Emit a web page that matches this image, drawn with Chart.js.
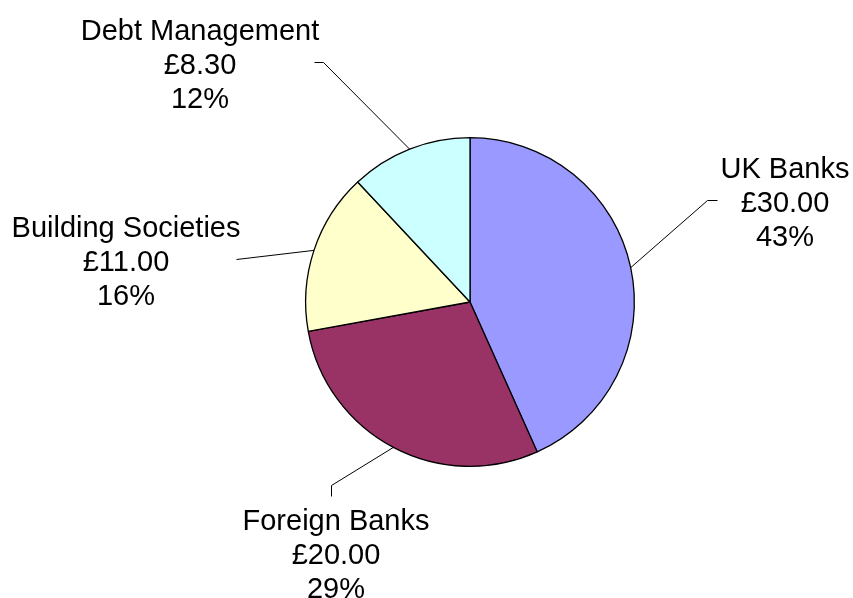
<!DOCTYPE html>
<html>
<head>
<meta charset="utf-8">
<script src="https://cdn.jsdelivr.net/npm/chart.js@4"></script>
<style>
  html, body { margin: 0; padding: 0; background: #ffffff; }
  #wrap { width: 853px; height: 598px; }
</style>
</head>
<body>
<div id="wrap"><canvas id="c" width="853" height="598"></canvas></div>
<script>
// ---- data ----
const categories = ["UK Banks", "Foreign Banks", "Building Societies", "Debt Management"];
const amounts = [30.00, 20.00, 11.00, 8.30];
const colors = ["#9999FF", "#993366", "#FFFFCC", "#CCFFFF"];

// ---- label layout (offsets relative to pie centre, pixels) ----
const labelLayout = [
  { text: [315, -124], elbow: [237, -102], end: [247, -102] },
  { text: [-134, 228], elbow: [-139, 183], end: [-139, 194] },
  { text: [-344, -65], elbow: [-234, -43], end: [-234, -43] },
  { text: [-270, -262], elbow: [-147, -240], end: [-156, -240] }
];

const outsideLabels = {
  id: 'outsideLabels',
  afterDatasetsDraw(chart) {
    const ctx = chart.ctx;
    const meta = chart.getDatasetMeta(0);
    const data = chart.data.datasets[0].data;
    const total = data.reduce((a, b) => a + b, 0);
    ctx.save();
    meta.data.forEach((arc, i) => {
      const p = arc.getProps(['x', 'y', 'startAngle', 'endAngle', 'outerRadius'], true);
      const mid = (p.startAngle + p.endAngle) / 2;
      const sx = p.x + Math.cos(mid) * p.outerRadius;
      const sy = p.y + Math.sin(mid) * p.outerRadius;
      const L = labelLayout[i];
      ctx.strokeStyle = '#000';
      ctx.lineWidth = 1;
      ctx.beginPath();
      ctx.moveTo(sx, sy);
      ctx.lineTo(p.x + L.elbow[0] + 0.5, p.y + L.elbow[1] + 0.5);
      ctx.lineTo(p.x + L.end[0] + 0.5, p.y + L.end[1] + 0.5);
      ctx.stroke();

      const lines = [
        chart.data.labels[i],
        '£' + data[i].toFixed(2),
        Math.round(data[i] / total * 100) + '%'
      ];
      ctx.fillStyle = '#000';
      ctx.font = '29px "Liberation Sans", Arial, sans-serif';
      ctx.textAlign = 'center';
      ctx.textBaseline = 'alphabetic';
      lines.forEach((t, k) => {
        ctx.fillText(t, p.x + L.text[0], p.y + L.text[1] + k * 34);
      });
    });
    ctx.restore();
  }
};

new Chart(document.getElementById('c'), {
  type: 'pie',
  data: {
    labels: categories,
    datasets: [{
      data: amounts,
      backgroundColor: colors,
      borderColor: '#000000',
      borderWidth: 1.3
    }]
  },
  options: {
    responsive: false,
    animation: false,
    layout: { padding: { top: 137, bottom: 131, left: 305, right: 218 } },
    plugins: {
      legend: { display: false },
      tooltip: { enabled: false }
    }
  },
  plugins: [outsideLabels]
});
</script>
</body>
</html>
